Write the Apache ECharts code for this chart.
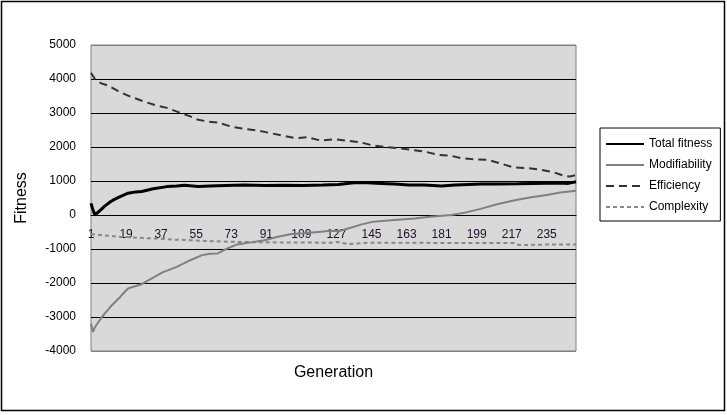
<!DOCTYPE html>
<html>
<head>
<meta charset="utf-8">
<script src="https://cdn.jsdelivr.net/npm/echarts@6/dist/echarts.min.js"></script>
<style>
html,body{margin:0;padding:0;background:#fff;}
#c{width:727px;height:415px;}
</style>
</head>
<body>
<div id="c"></div>
<script>
// Generations 1..250
const generations = [];
for (let g = 1; g <= 250; g++) generations.push(String(g));

const seriesNames = ['Total fitness', 'Modifiability', 'Efficiency', 'Complexity'];

// [generation, value] readings
const totalFitness = [[1,340],[2,150],[3,0],[4,40],[6,150],[8,260],[11,390],[13,460],[16,540],[20,640],[24,680],[27,690],[33,770],[40,835],[45,850],[49,875],[56,840],[62,855],[70,870],[80,880],[90,870],[100,875],[110,870],[120,880],[128,900],[136,950],[143,950],[150,930],[157,910],[164,885],[172,880],[181,855],[188,880],[195,900],[201,915],[210,910],[220,920],[228,930],[235,935],[242,940],[246,930],[250,980]];

const modifiability = [[1,-3200],[2,-3440],[3,-3300],[6,-3050],[8,-2900],[11,-2700],[13,-2580],[16,-2410],[18,-2280],[20,-2160],[24,-2090],[27,-2035],[32,-1870],[38,-1680],[45,-1525],[52,-1330],[58,-1180],[62,-1140],[66,-1130],[71,-985],[76,-865],[83,-805],[90,-740],[97,-640],[104,-560],[110,-540],[119,-490],[124,-460],[128,-480],[133,-395],[140,-275],[146,-195],[152,-170],[157,-145],[167,-100],[175,-50],[186,0],[193,70],[201,180],[210,325],[218,425],[227,520],[235,590],[242,660],[250,710]];

const efficiency = [[1,4180],[3,4000],[6,3880],[10,3800],[15,3640],[20,3510],[28,3340],[34,3230],[40,3150],[47,3000],[52,2900],[56,2800],[61,2750],[66,2720],[73,2600],[80,2530],[87,2480],[93,2410],[100,2330],[106,2260],[112,2290],[119,2190],[126,2230],[133,2180],[140,2130],[146,2040],[152,2000],[158,1970],[165,1920],[172,1870],[179,1770],[186,1740],[191,1670],[198,1640],[205,1620],[211,1520],[218,1400],[225,1380],[232,1330],[239,1250],[244,1150],[247,1130],[250,1180]];

const complexity = [[1,-560],[8,-600],[16,-640],[25,-670],[34,-690],[42,-720],[51,-740],[63,-770],[78,-795],[95,-805],[110,-810],[124,-815],[127,-790],[133,-855],[143,-815],[160,-815],[175,-820],[184,-825],[200,-825],[218,-825],[221,-885],[235,-870],[250,-865]];

const yTicks = ['-4000','-3000','-2000','-1000','0','1000','2000','3000','4000','5000'];

function toCat(arr){ return arr.map(p => [p[0]-1, p[1]]); }

const chart = echarts.init(document.getElementById('c'), null, {renderer:'canvas'});
const font = 'Liberation Sans, Arial, sans-serif';
chart.setOption({
  animation:false,
  backgroundColor:'#ffffff',
  textStyle:{fontFamily:font},
  graphic:[{type:'rect',shape:{x:1.5,y:1.5,width:723,height:409},style:{fill:'none',stroke:'#000',lineWidth:1.5},silent:true}],
  grid:{left:91,right:151,top:45,bottom:64,show:true,backgroundColor:'#D9D9D9',borderColor:'#808080',borderWidth:1},
  xAxis:{
    type:'category',data:generations,boundaryGap:false,position:'bottom',offset:-136,
    name:'Generation',nameLocation:'middle',nameGap:150,
    nameTextStyle:{fontSize:16,color:'#000',fontFamily:font},
    axisLine:{show:true,onZero:false,lineStyle:{color:'#000',width:1}},
    axisTick:{show:false},
    axisLabel:{interval:17,fontSize:12,color:'#1a1030',margin:14,fontFamily:font},
    splitLine:{show:false}
  },
  yAxis:{
    type:'value',min:-4000,max:5000,interval:1000,
    name:'Fitness',nameLocation:'middle',nameGap:61,nameRotate:90,
    nameTextStyle:{fontSize:16,color:'#000',fontFamily:font},
    axisLine:{show:false,onZero:false},axisTick:{show:false},
    axisLabel:{fontSize:12,color:'#000',margin:15,fontFamily:font,
      formatter:function(v){return yTicks[Math.round((v+4000)/1000)];}},
    splitLine:{show:true,lineStyle:{color:['#808080','#000','#000','#000','#000','#000','#000','#000','#000','#808080'],width:1}}
  },
  legend:{
    orient:'vertical',left:600,top:128,
    data:seriesNames,
    itemWidth:38,itemHeight:12,itemGap:9,
    padding:[10,8,8,5],
    borderColor:'#000',borderWidth:1,backgroundColor:'#fff',
    itemStyle:{opacity:0,color:'rgba(0,0,0,0)',borderWidth:0},
    textStyle:{fontSize:12,color:'#000',fontFamily:font}
  },
  series:[
    {name:seriesNames[0],type:'line',data:toCat(totalFitness),symbol:'none',z:5,
     lineStyle:{color:'#000',width:3},itemStyle:{color:'#000'}},
    {name:seriesNames[1],type:'line',data:toCat(modifiability),symbol:'none',z:4,
     lineStyle:{color:'#808080',width:2},itemStyle:{color:'#808080'}},
    {name:seriesNames[2],type:'line',data:toCat(efficiency),symbol:'none',z:3,
     lineStyle:{color:'#333',width:2,type:[8,5]},itemStyle:{color:'#333'}},
    {name:seriesNames[3],type:'line',data:toCat(complexity),symbol:'none',z:2,
     lineStyle:{color:'#888',width:2,type:[4,3]},itemStyle:{color:'#888'}}
  ]
});
</script>
</body>
</html>
